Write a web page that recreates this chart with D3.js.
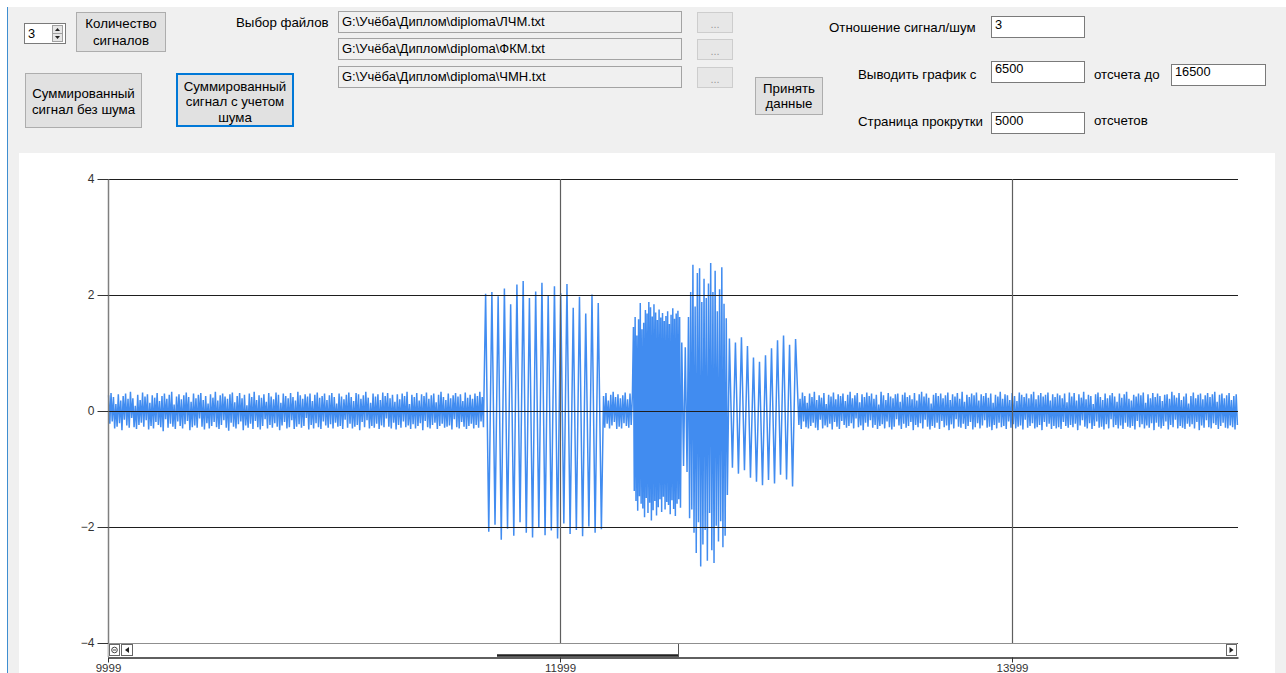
<!DOCTYPE html>
<html>
<head>
<meta charset="utf-8">
<script src="https://cdn.jsdelivr.net/npm/d3@7"></script>
<style>
  html, body { margin: 0; padding: 0; background: #fff; overflow: hidden; }
  svg { display: block; font-family: "Liberation Sans", Arial, sans-serif; }
</style>
</head>
<body>
<svg id="app" width="1286" height="673"></svg>
<script>
// ---- Axis settings ----
const sampleDomain = [9999, 14999];
const amplitudeDomain = [-4, 4];
const xTickValues = [9999, 11999, 13999];
const yTickValues = [-4, -2, 0, 2, 4];

// ---- Summed signal with noise, split into time segments (sample index bounds) ----
const segmentBounds = [9999, 11663, 12189, 12322, 12534, 12565, 12742, 13048, 14999];

// noise before the first pulse
const noiseLeft = [
  0.27,-0.22,0.31,-0.18,0.24,-0.30,0.12,-0.27,0.29,-0.21,
  0.18,-0.33,0.26,-0.15,0.30,-0.25,0.21,-0.29,0.33,-0.12,
  0.22,-0.28,0.09,-0.31,0.28,-0.24,0.19,-0.20,0.32,-0.27,
  0.25,-0.16,0.29,-0.32,0.14,-0.26,0.27,-0.30,0.23,-0.19,
  0.31,-0.24,0.17,-0.28,0.26,-0.35,0.30,-0.14,0.21,-0.29,
  0.28,-0.22,0.33,-0.27,0.11,-0.31,0.25,-0.18,0.29,-0.26,
  0.20,-0.30,0.27,-0.23,0.32,-0.17,0.24,-0.33,0.16,-0.28,
  0.30,-0.25,0.22,-0.29,0.28,-0.13,0.31,-0.27,0.19,-0.32,
  0.26,-0.21,0.13,-0.30,0.29,-0.26,0.23,-0.19,0.33,-0.28,
  0.18,-0.31,0.27,-0.24,0.30,-0.16,0.25,-0.29,0.21,-0.34,
  0.29,-0.20,0.32,-0.27,0.15,-0.30,0.26,-0.23,0.31,-0.18,
  0.22,-0.33,0.28,-0.25,0.10,-0.29,0.30,-0.22,0.24,-0.31,
  0.33,-0.17,0.19,-0.28,0.27,-0.32,0.23,-0.26,0.29,-0.14,
  0.16,-0.30,0.31,-0.24,0.25,-0.29,0.20,-0.21,0.32,-0.27,
  0.28,-0.33,0.14,-0.25,0.30,-0.19,0.26,-0.30,0.22,-0.28,
  0.31,-0.16,0.24,-0.31,0.18,-0.27,0.33,-0.23,0.27,-0.29,
  0.21,-0.26,0.29,-0.12,0.25,-0.32,0.30,-0.24,0.17,-0.30,
  0.28,-0.21,0.32,-0.28,0.23,-0.31,0.26,-0.18,0.30,-0.25,
  0.19,-0.29,0.27,-0.23,0.31,-0.30,0.24,-0.20,0.13,-0.27,
  0.30,-0.26,0.25,-0.31,0.20,-0.15,0.28,-0.29,0.32,-0.22,
  0.24,-0.30,0.17,-0.27,0.31,-0.24,0.29,-0.33,0.21,-0.19,
  0.27,-0.28,0.33,-0.16,0.23,-0.30,0.14,-0.26,0.30,-0.29,
  0.25,-0.22,0.29,-0.31,0.19,-0.25,0.32,-0.28,0.26,-0.13,
  0.31,-0.27,0.22,-0.30,0.28,-0.20,0.16,-0.32,0.29,-0.24,
  0.20,-0.29,0.30,-0.18,0.26,-0.28,0.33,-0.25,0.12,-0.31,
  0.28,-0.23,0.24,-0.30,0.31,-0.26,0.18,-0.21,0.29,-0.33,
  0.26,-0.17,0.32,-0.28,0.21,-0.30,0.27,-0.24,0.30,-0.20,
  0.15,-0.31,0.28,-0.26,0.33,-0.22,0.24,-0.29,0.19,-0.27,
  0.30,-0.25,0.22,-0.32,0.27,-0.14,0.31,-0.28,0.25,-0.30,
  0.29,-0.19,0.17,-0.27,0.32,-0.31,0.23,-0.26,0.28,-0.22,
  0.21,-0.30,0.30,-0.24,0.26,-0.29,0.33,-0.18,0.24,-0.28
];

// chirp (ЛЧМ) pulse
const lfmBurst = [
  2.02,-2.08,2.05,-1.96,1.98,-2.22,2.11,-2.03,1.84,-2.15,
  2.18,-1.92,2.24,-2.10,1.95,-2.18,2.06,-2.01,2.21,-2.14,
  1.99,-2.06,2.15,-2.20,2.03,-1.94,2.19,-2.12,1.78,-2.05,
  1.97,-2.16,1.68,-1.99,2.01,-2.10,1.86,-2.04
];

// noise between the pulses
const noiseMid = [
  0.26,-0.29,0.31,-0.22,0.18,-0.30,0.28,-0.25,0.33,-0.19,
  0.24,-0.31,0.29,-0.27,0.22,-0.30,0.27,-0.21,0.32,-0.26,
  0.20,-0.29,0.30,-0.24,0.28
];

// phase-coded (ФКМ) pulse
const pskBurst = [
  1.45,-1.38,1.62,-1.55,1.30,-1.72,1.58,-1.47,1.86,-1.60,
  1.41,-1.68,1.52,-1.83,1.74,-1.50,1.68,-1.76,1.88,-1.58,
  1.79,-1.89,1.63,-1.71,1.84,-1.55,1.70,-1.80,1.57,-1.66,
  1.75,-1.52,1.61,-1.74,1.69,-1.48,1.55,-1.70,1.64,-1.57,
  1.72,-1.62,1.50,-1.78,1.66,-1.54,1.77,-1.69,1.59,-1.81,
  1.68,-1.60,1.73,-1.52,1.62,-1.67
];
const pskTail = [1.18,-0.95,1.10,-1.05];

// overlap of the ФКМ and ЧМН pulses
const mixedBurst = [
  1.62,-1.85,2.05,-1.70,2.52,-2.10,1.80,-2.45,2.38,-1.92,
  2.46,-2.68,1.88,-2.30,2.28,-2.05,1.95,-2.58,2.20,-1.76,
  2.55,-2.40,2.05,-2.62,2.42,-1.98,1.72,-2.25,2.10,-1.90,
  2.48,-2.35,1.85,-2.15,1.60,-1.45
];

// frequency-shift (ЧМН) pulse
const fskBurst = [
  1.25,-0.98,1.18,-1.08,1.27,-1.02,1.12,-1.15,0.92,-1.22,
  0.85,-1.28,0.96,-1.19,1.08,-1.25,1.22,-1.10,1.30,-1.18,
  1.14,-1.30,1.24
];

// noise after the last pulse
const noiseRight = [
  0.29,-0.24,0.21,-0.31,0.32,-0.18,0.26,-0.28,0.14,-0.30,
  0.30,-0.26,0.24,-0.20,0.33,-0.29,0.19,-0.33,0.27,-0.15,
  0.23,-0.30,0.31,-0.25,0.12,-0.28,0.28,-0.22,0.25,-0.32,
  0.32,-0.19,0.20,-0.27,0.29,-0.31,0.26,-0.17,0.30,-0.24,
  0.17,-0.29,0.28,-0.26,0.33,-0.21,0.22,-0.30,0.27,-0.13,
  0.31,-0.28,0.15,-0.25,0.29,-0.33,0.24,-0.20,0.32,-0.27,
  0.26,-0.16,0.30,-0.29,0.21,-0.24,0.28,-0.31,0.11,-0.26,
  0.33,-0.23,0.27,-0.30,0.19,-0.18,0.31,-0.28,0.25,-0.32,
  0.22,-0.27,0.29,-0.14,0.30,-0.25,0.16,-0.31,0.28,-0.22,
  0.32,-0.29,0.24,-0.26,0.27,-0.19,0.20,-0.33,0.31,-0.24,
  0.18,-0.28,0.29,-0.21,0.33,-0.30,0.25,-0.15,0.30,-0.27,
  0.23,-0.32,0.13,-0.26,0.28,-0.29,0.31,-0.20,0.26,-0.31,
  0.30,-0.17,0.22,-0.28,0.27,-0.25,0.32,-0.33,0.19,-0.23,
  0.29,-0.30,0.25,-0.14,0.31,-0.27,0.21,-0.29,0.33,-0.22,
  0.16,-0.31,0.28,-0.26,0.24,-0.19,0.30,-0.32,0.27,-0.28,
  0.32,-0.21,0.18,-0.30,0.29,-0.25,0.26,-0.16,0.31,-0.29,
  0.23,-0.27,0.30,-0.33,0.14,-0.24,0.28,-0.30,0.25,-0.20,
  0.33,-0.28,0.21,-0.26,0.29,-0.31,0.27,-0.18,0.19,-0.29,
  0.31,-0.23,0.26,-0.30,0.17,-0.27,0.32,-0.25,0.28,-0.32,
  0.24,-0.15,0.30,-0.29,0.22,-0.26,0.29,-0.21,0.33,-0.30,
  0.20,-0.28,0.27,-0.24,0.31,-0.33,0.25,-0.19,0.28,-0.27,
  0.32,-0.22,0.18,-0.31,0.29,-0.26,0.24,-0.30,0.30,-0.28,
  0.27,-0.31,0.22,-0.19,0.30,-0.26,0.15,-0.29,0.32,-0.24,
  0.25,-0.28,0.31,-0.22,0.18,-0.33,0.29,-0.25,0.23,-0.16,
  0.33,-0.27,0.20,-0.30,0.28,-0.21,0.26,-0.31,0.12,-0.26,
  0.29,-0.18,0.32,-0.29,0.24,-0.27,0.19,-0.32,0.30,-0.23,
  0.22,-0.30,0.27,-0.14,0.31,-0.28,0.25,-0.24,0.16,-0.30,
  0.30,-0.25,0.23,-0.31,0.29,-0.20,0.33,-0.27,0.21,-0.29,
  0.18,-0.26,0.28,-0.32,0.25,-0.17,0.30,-0.28,0.27,-0.23,
  0.32,-0.30,0.14,-0.25,0.29,-0.29,0.22,-0.21,0.31,-0.33,
  0.24,-0.20,0.30,-0.27,0.26,-0.30,0.17,-0.26,0.28,-0.18,
  0.29,-0.32,0.21,-0.24,0.33,-0.28,0.27,-0.15,0.23,-0.30,
  0.31,-0.26,0.19,-0.29,0.25,-0.31,0.30,-0.22,0.13,-0.27,
  0.26,-0.23,0.32,-0.30,0.22,-0.19,0.28,-0.33,0.30,-0.25,
  0.20,-0.29,0.27,-0.16,0.31,-0.28,0.24,-0.30,0.29,-0.21,
  0.33,-0.24,0.16,-0.31,0.28,-0.26,0.30,-0.20,0.22,-0.29,
  0.27,-0.30,0.31,-0.25,0.19,-0.28,0.26,-0.32,0.29,-0.24
];

const segmentValues = [noiseLeft, lfmBurst, noiseMid, pskBurst, pskTail, mixedBurst, fskBurst, noiseRight];

// form field contents
const filePaths = [
  "G:\\Учёба\\Диплом\\diploma\\ЛЧМ.txt",
  "G:\\Учёба\\Диплом\\diploma\\ФКМ.txt",
  "G:\\Учёба\\Диплом\\diploma\\ЧМН.txt"
];

// ---------------------------------------------------------------
const svg = d3.select("#app");
const FONT = 13.3;

svg.append("rect").attr("width", 1286).attr("height", 673).attr("fill", "#fff");
// window client area
svg.append("rect").attr("x", 8).attr("y", 7).attr("width", 1278).attr("height", 666).attr("fill", "#f0f0f0");
svg.append("line").attr("x1", 7.5).attr("x2", 7.5).attr("y1", 7).attr("y2", 673)
  .attr("stroke", "#3f8ed0").attr("stroke-width", 1);

function label(x, y, text, anchor, color, size) {
  svg.append("text").attr("x", x).attr("y", y).attr("text-anchor", anchor || "start")
    .attr("font-size", size || FONT).attr("fill", color || "#000").text(text);
}
function button(x, y, w, h, lines, baselines, focused) {
  svg.append("rect").attr("x", x).attr("y", y).attr("width", w).attr("height", h)
    .attr("fill", "#e1e1e1").attr("stroke", focused ? "#0078d7" : "#adadad")
    .attr("stroke-width", focused ? 2 : 1);
  lines.forEach((t, i) => label(x + w / 2, baselines[i], t, "middle"));
}
function textBox(x, y, w, h, text, baseline, fill) {
  svg.append("rect").attr("x", x).attr("y", y).attr("width", w).attr("height", h)
    .attr("fill", fill || "#fff").attr("stroke", "#7a7a7a");
  label(x + 3.5, baseline, text, "start", "#000", 12.8);
}

// numeric up-down with number of signals
textBox(24.5, 23.5, 41, 20, "3", 37.5);
svg.append("rect").attr("x", 52.5).attr("y", 25.5).attr("width", 10).attr("height", 16)
  .attr("fill", "#e6e6e6").attr("stroke", "#a0a0a0");
svg.append("line").attr("x1", 52.5).attr("x2", 62.5).attr("y1", 33.5).attr("y2", 33.5).attr("stroke", "#a0a0a0");
svg.append("path").attr("d", "M55,31 L60,31 L57.5,28 Z").attr("fill", "#222");
svg.append("path").attr("d", "M55,36 L60,36 L57.5,39 Z").attr("fill", "#222");

button(76.5, 12.5, 89, 39, ["Количество", "сигналов"], [28, 45]);
label(236, 27, "Выбор файлов");
button(25.5, 73.5, 116, 54, ["Суммированный", "сигнал без шума"], [97.5, 113.5]);
button(177, 74, 116, 52, ["Суммированный", "сигнал с учетом", "шума"], [90.5, 106, 121.5], true);

// file path fields with browse buttons
const fileRowsY = [11.5, 38.5, 66.5];
filePaths.forEach((p, i) => {
  const y0 = fileRowsY[i];
  svg.append("rect").attr("x", 338.5).attr("y", y0).attr("width", 343).attr("height", 21)
    .attr("fill", "#f0f0f0").attr("stroke", "#a3a3a3");
  label(342, y0 + 14, p, "start", "#000", 13);
  svg.append("rect").attr("x", 697.5).attr("y", y0 + 1).attr("width", 35).attr("height", 20)
    .attr("fill", "#e7e7e7").attr("stroke", "#cdcdcd");
  label(715, y0 + 16, "...", "middle", "#9a9a9a", 11);
});

button(755.5, 77.5, 67, 37, ["Принять", "данные"], [92.5, 108]);

label(829, 32, "Отношение сигнал/шум");
textBox(991.5, 16.5, 93, 21, "3", 29);
label(858, 78.5, "Выводить график с");
textBox(991.5, 61.5, 93, 21, "6500", 73);
label(1094, 78.5, "отсчета до");
textBox(1171.5, 64.5, 94, 21, "16500", 75.5);
label(858, 125.5, "Страница прокрутки");
textBox(991.5, 112.5, 93, 21, "5000", 125);
label(1094, 125, "отсчетов");

// ---- Chart panel ----
svg.append("rect").attr("x", 19).attr("y", 153).attr("width", 1256).attr("height", 520).attr("fill", "#fff");

const x = d3.scaleLinear().domain(sampleDomain).range([108, 1238]);
const y = d3.scaleLinear().domain(amplitudeDomain).range([643, 179]);

// build the sample series from the segments
const points = [];
segmentValues.forEach((vals, i) => {
  const s0 = segmentBounds[i], s1 = segmentBounds[i + 1];
  const step = (s1 - s0) / vals.length;
  vals.forEach((v, j) => points.push({ s: s0 + (j + 0.5) * step, v }));
});

const plot = svg.append("g");
plot.append("path").datum(points)
  .attr("d", d3.line().x(d => x(d.s)).y(d => y(d.v)))
  .attr("fill", "none").attr("stroke", "#418cf0").attr("stroke-width", 1.5)
  .attr("stroke-linejoin", "bevel");

// grid
const grid = svg.append("g");
grid.selectAll("line.h").data(yTickValues).join("line")
  .attr("x1", 108).attr("x2", 1238)
  .attr("y1", d => Math.round(y(d)) + 0.5).attr("y2", d => Math.round(y(d)) + 0.5)
  .attr("stroke", "#1e1e1e").attr("stroke-width", 1);
grid.selectAll("line.v").data(xTickValues.slice(1)).join("line")
  .attr("x1", d => Math.round(x(d)) + 0.5).attr("x2", d => Math.round(x(d)) + 0.5)
  .attr("y1", 179).attr("y2", 643)
  .attr("stroke", "#5e5e5e").attr("stroke-width", 1.2);

// y axis
const yAxis = svg.append("g").attr("transform", "translate(108.5,0)")
  .call(d3.axisLeft(y).tickValues(yTickValues).tickSize(11).tickSizeOuter(0).tickPadding(3));
yAxis.select(".domain").attr("stroke", "#7f7f7f").attr("stroke-width", 1.5)
  .attr("d", "M0,179V657");
yAxis.selectAll(".tick line").attr("stroke", "#333");
yAxis.selectAll(".tick text").attr("font-size", 12).attr("fill", "#333")
  .attr("font-family", "Liberation Sans, Arial, sans-serif");

// scroll bar under the plot
const sb = svg.append("g");
sb.append("rect").attr("x", 108.5).attr("y", 643.5).attr("width", 1129).attr("height", 13).attr("fill", "#fff");
sb.append("rect").attr("x", 109.5).attr("y", 644.5).attr("width", 10).attr("height", 11)
  .attr("fill", "#fff").attr("stroke", "#666");
sb.append("circle").attr("cx", 114.5).attr("cy", 650).attr("r", 2.8).attr("fill", "none").attr("stroke", "#444");
sb.append("line").attr("x1", 113).attr("x2", 116).attr("y1", 650).attr("y2", 650).attr("stroke", "#444");
sb.append("rect").attr("x", 121.5).attr("y", 644.5).attr("width", 11).attr("height", 11)
  .attr("fill", "#fff").attr("stroke", "#666");
sb.append("path").attr("d", "M125,650 L129,647 L129,653 Z").attr("fill", "#222");
sb.append("rect").attr("x", 1226.5).attr("y", 644.5).attr("width", 10).attr("height", 11)
  .attr("fill", "#fff").attr("stroke", "#666");
sb.append("path").attr("d", "M1233.5,650 L1229.5,647 L1229.5,653 Z").attr("fill", "#222");
sb.append("line").attr("x1", 497).attr("x2", 678).attr("y1", 655.5).attr("y2", 655.5)
  .attr("stroke", "#222").attr("stroke-width", 2.5);
sb.append("line").attr("x1", 678.5).attr("x2", 678.5).attr("y1", 644).attr("y2", 657)
  .attr("stroke", "#555");

// x axis below the scroll bar
const xAxis = svg.append("g").attr("transform", "translate(0,657.5)")
  .call(d3.axisBottom(x).tickValues(xTickValues).tickSize(5).tickSizeOuter(0).tickPadding(1)
    .tickFormat(d3.format("d")));
xAxis.select(".domain").attr("stroke", "#2a2a2a").attr("stroke-width", 1.5);
xAxis.selectAll(".tick line").attr("stroke", "#333");
xAxis.selectAll(".tick text").attr("font-size", 11.5).attr("fill", "#333")
  .attr("font-family", "Liberation Sans, Arial, sans-serif");
</script>
</body>
</html>
